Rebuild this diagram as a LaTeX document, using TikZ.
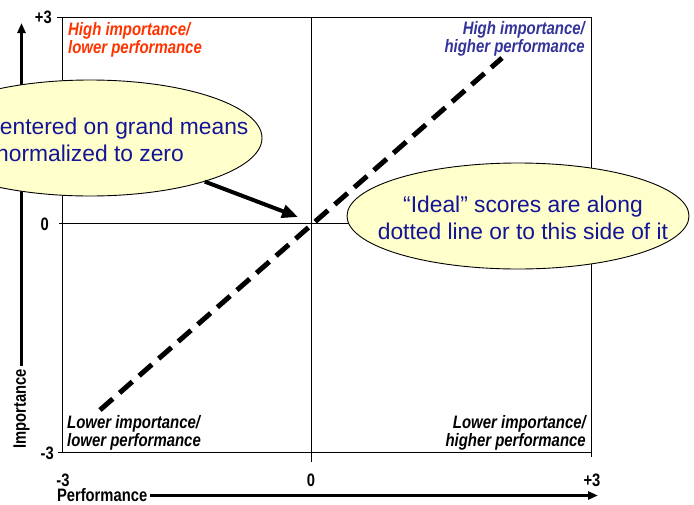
\documentclass[tikz,border=0pt]{standalone}
\usepackage{fontspec}
\setmainfont{Liberation Sans}
\newfontfamily\quadfont{Liberation Sans}[FakeStretch=0.83]
\newfontfamily\axfont{Liberation Sans}[FakeStretch=0.82]
\usetikzlibrary{arrows.meta,shapes.geometric}
\definecolor{qred}{RGB}{255,51,0}
\definecolor{qblue}{RGB}{51,51,153}
\definecolor{calloutfill}{RGB}{255,255,204}
\definecolor{ctext}{RGB}{20,20,150}
\begin{document}
\begin{tikzpicture}[x=1pt,y=-1pt,
  frame/.style={line width=1pt},
  quad/.style={font=\quadfont\fontsize{18}{18}\selectfont\bfseries\itshape, inner sep=0},
  axlab/.style={font=\axfont\fontsize{18}{18}\selectfont\bfseries, inner sep=0},
  axarrow/.style={line width=2.5pt, -{Triangle[length=10pt,width=8pt]}},
  callout/.style={ellipse, draw=black, line width=0.9pt, fill=calloutfill, inner sep=0},
  callouttext/.style={font=\fontsize{22.8}{27.5}\selectfont, text=ctext, align=center, inner sep=0},
  dashline/.style={line width=5pt, dash pattern=on 17pt off 9pt},
  callarrow/.style={line width=4pt, -{Triangle[length=16pt,width=13pt]}}]
\useasboundingbox (0,0) rectangle (694,504);
\clip (0,0) rectangle (694,504);
% frame and axes
\draw[frame] (62,17) rectangle (591,452);
\draw[frame] (311,17) -- (311,462);
\draw[frame] (59,223) -- (591,223);
\draw[frame] (57,17) -- (62,17);
\draw[frame] (58,452) -- (62,452);
\draw[frame] (591,452) -- (591,457);
% tick labels
\node[axlab, anchor=east] (yp3) at (52,17) {+3};
\node[axlab, anchor=east] (y0) at (49,224) {0};
\node[axlab, anchor=east] (ym3) at (54,453) {-3};
\node[axlab, anchor=center] (xm3) at (63,480.5) {-3};
\node[axlab, anchor=center] (x0) at (311,480.5) {0};
\node[axlab, anchor=center] (xp3) at (592,480.5) {+3};
% axis titles
\node[axlab, anchor=west, outer sep=3pt] (perf) at (54,495.5) {Performance};
\coordinate (xend) at (598,495.5);
\draw[axarrow] (perf.east) -- (xend);
\node[axlab, rotate=90, outer sep=3pt] (imp) at (21.5,409) {Importance};
\coordinate (yend) at (21.5,23);
\draw[axarrow] (imp.east) -- (yend);
% quadrant labels
\node[quad, text=qred, anchor=north west, align=left] (tl) at (68,22) {High importance/\\lower performance};
\node[quad, text=qblue, anchor=north east, align=right] (tr) at (585,21.5) {High importance/\\higher performance};
\node[quad, anchor=north west, align=left] (bl) at (67,415) {Lower importance/\\lower performance};
\node[quad, anchor=north east, align=right] (br) at (586,415) {Lower importance/\\higher performance};
% dashed diagonal
\coordinate (d1) at (100,410);
\coordinate (d2) at (502,58);
\draw[dashline] (d1) -- (d2);
% callouts
\node[callout, minimum width=344pt, minimum height=116pt] (e1) at (90,138) {};
\node[callouttext] (t1) at (90,140) {Axes centered on grand means\\normalized to zero};
\coordinate (tip) at (298,217);
\draw[callarrow] (e1) -- (tip);
\node[callout, minimum width=342pt, minimum height=106pt] (e2) at (518,216) {};
\node[callouttext] (t2) at (523,218) {“Ideal” scores are along\\dotted line or to this side of it};
\end{tikzpicture}
\end{document}
